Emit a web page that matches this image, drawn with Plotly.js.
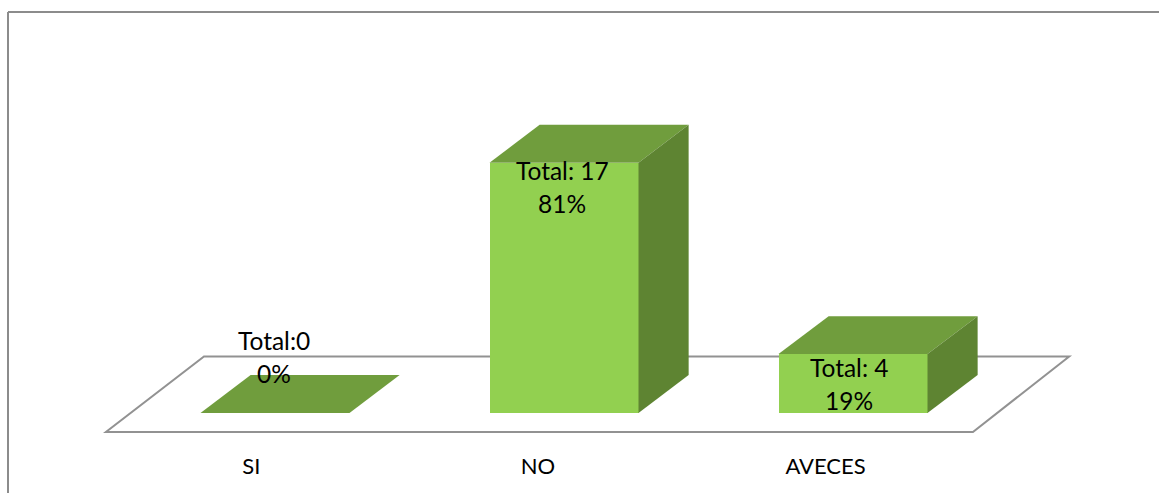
<!DOCTYPE html>
<html>
<head>
<meta charset="utf-8">
<script src="https://cdn.plot.ly/plotly-3.0.1.min.js"></script>
<style>html,body{margin:0;padding:0;background:#fff;overflow:hidden}#chart{width:1159px;height:493px}</style>
</head>
<body>
<div id="chart"></div>
<script>
// Data
var categories = ['SI', 'NO', 'AVECES'];
var totals = [0, 17, 4];
var totalLabels = ['Total:0', 'Total: 17', 'Total: 4'];
var percentLabels = ['0%', '81%', '19%'];
var categoryLabelPositions = [-0.082, 0.91, 1.905];

// Drawing parameters for the simulated 3-D column
var W = 1159, H = 493, marginBottom = 48;
var plotH = H - marginBottom;
var xCenter0 = 275, xUnit = 289, yBase = 413, yUnit = 14.72;
var barWidth = 0.5156, depthX = 0.1735, depthY = 2.58;
var FRONT = '#92D050', TOP = '#709D3D', SIDE = '#5E8432', GRID = '#929292';
var FONT = 'Lato, Carlito, sans-serif', LABEL_SIZE = 24.5, TICK_SIZE = 22;

var xs = categories.map(function (c, i) { return i; });
var traces = [];

traces.push({
  type: 'bar', x: xs, y: totals, width: barWidth,
  marker: { color: FRONT, line: { width: 0 } }, hoverinfo: 'x+y', showlegend: false
});

xs.forEach(function (x, i) {
  var l = x - barWidth / 2, r = x + barWidth / 2, v = totals[i];
  traces.push({
    type: 'scatter', mode: 'lines', fill: 'toself', fillcolor: TOP,
    line: { width: 0, color: TOP }, hoverinfo: 'skip', showlegend: false,
    x: [l, r, r + depthX, l + depthX, l],
    y: [v, v, v + depthY, v + depthY, v]
  });
  if (v > 0) {
    traces.push({
      type: 'scatter', mode: 'lines', fill: 'toself', fillcolor: SIDE,
      line: { width: 0, color: SIDE }, hoverinfo: 'skip', showlegend: false,
      x: [r, r + depthX, r + depthX, r, r],
      y: [0, depthY, v + depthY, v, 0]
    });
  }
});

// Floor of the 3-D plot, in axis units
var floor = { fl: -0.585, fr: 2.415, bl: -0.2457, br: 2.748, front: -1.29, back: 3.84 };
var floorPath = 'M' + floor.fl + ',' + floor.front + ' L' + floor.fr + ',' + floor.front +
  ' L' + floor.br + ',' + floor.back + ' L' + floor.bl + ',' + floor.back + ' Z';

// Chart frame (left and top edges only are visible in the crop)
var fx = 8 / W, fy = (plotH - 12) / plotH, fb = -marginBottom / plotH;

var shapes = [
  { type: 'path', path: floorPath, xref: 'x', yref: 'y', layer: 'below', line: { color: GRID, width: 2 } },
  { type: 'line', xref: 'paper', yref: 'paper', x0: fx, x1: fx, y0: fb, y1: fy, line: { color: '#8C8C8C', width: 2 } },
  { type: 'line', xref: 'paper', yref: 'paper', x0: fx, x1: 1, y0: fy, y1: fy, line: { color: '#8C8C8C', width: 2 } }
];

// Label offsets in pixels relative to each bar top
var labelShiftY = [
  [73, 40],
  [-8, -41],
  [-13, -46]
];
var labelShiftX = [-1, -2, -4];
var annotations = [];
xs.forEach(function (x, i) {
  [totalLabels[i], percentLabels[i]].forEach(function (t, k) {
    annotations.push({
      x: x, y: totals[i], xref: 'x', yref: 'y', text: t, showarrow: false,
      xanchor: 'center', yanchor: 'middle', xshift: labelShiftX[i], yshift: labelShiftY[i][k],
      font: { family: FONT, size: LABEL_SIZE, color: '#000' }
    });
  });
});

var layout = {
  width: W, height: H,
  margin: { l: 0, r: 0, t: 0, b: marginBottom, pad: 0 },
  paper_bgcolor: '#fff', plot_bgcolor: '#fff', showlegend: false,
  xaxis: {
    range: [(0 - xCenter0) / xUnit, (W - xCenter0) / xUnit],
    tickmode: 'array', tickvals: categoryLabelPositions, ticktext: categories,
    ticks: '', showgrid: false, zeroline: false, showline: false, ticklabelstandoff: 6,
    tickfont: { family: FONT, size: TICK_SIZE, color: '#000' }, automargin: false
  },
  yaxis: {
    range: [(yBase - plotH) / yUnit, yBase / yUnit],
    visible: false, showgrid: false, zeroline: false
  },
  shapes: shapes, annotations: annotations, bargap: 0
};

Plotly.newPlot('chart', traces, layout, { displayModeBar: false, responsive: false });
</script>
</body>
</html>
